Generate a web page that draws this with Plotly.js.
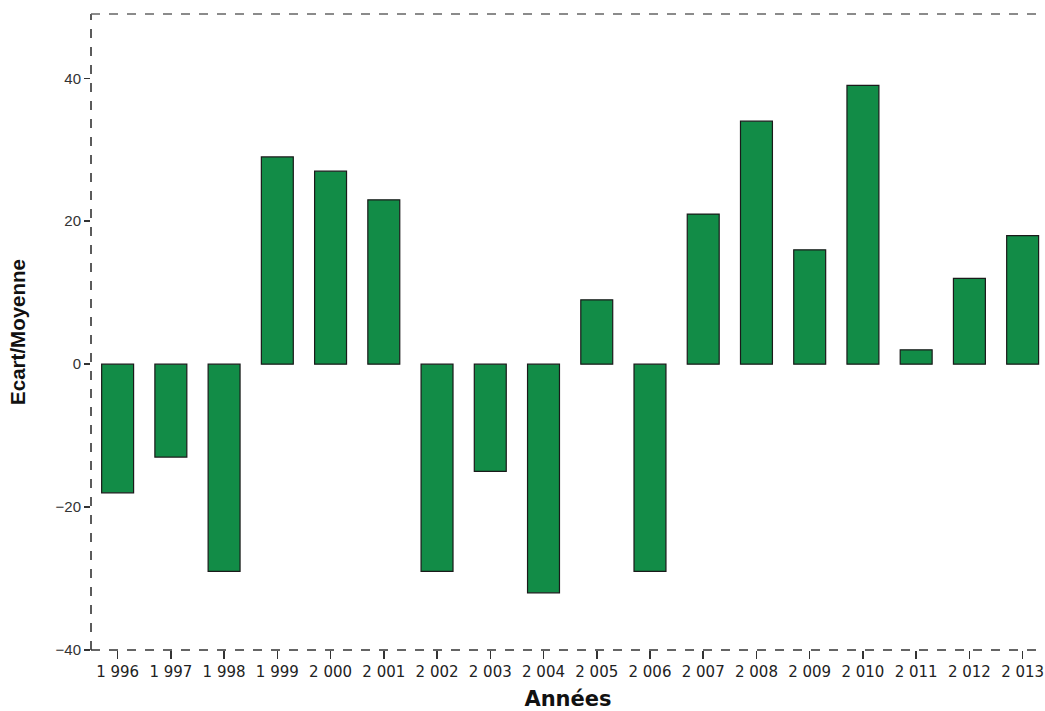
<!DOCTYPE html>
<html>
<head>
<meta charset="utf-8">
<script src="https://cdn.plot.ly/plotly-3.0.1.min.js"></script>
<style>html,body{margin:0;padding:0;background:#fff;}#chart{width:1045px;height:711px;}</style>
</head>
<body>
<div id="chart"></div>
<script>
const years = ["1 996","1 997","1 998","1 999","2 000","2 001","2 002","2 003","2 004","2 005","2 006","2 007","2 008","2 009","2 010","2 011","2 012","2 013"];
const ecart = [-18,-13,-29,29,27,23,-29,-15,-32,9,-29,21,34,16,39,2,12,18];
const yTicks = [-40,-20,0,20,40];

const trace = {
  type: 'bar',
  x: years,
  y: ecart,
  marker: {color: '#128c47', line: {color: '#1a1a1a', width: 1.2}},
  hoverinfo: 'x+y'
};

const layout = {
  width: 1045, height: 711,
  margin: {l: 91, r: 0, t: 14, b: 61},
  paper_bgcolor: '#fff', plot_bgcolor: '#fff',
  bargap: 0.4,
  showlegend: false,
  xaxis: {
    type: 'category',
    range: [-0.5, 17.42],
    showgrid: false, zeroline: false, showline: false,
    ticks: 'outside', ticklen: 8, tickwidth: 1.5, tickcolor: '#333',
    tickfont: {family: 'DejaVu Sans', size: 15, color: '#222'},
    title: {text: '<b>Années</b>', font: {family: 'DejaVu Sans', size: 21, color: '#111'}, standoff: 13}
  },
  yaxis: {
    range: [-40, 49],
    tickvals: yTicks,
    showgrid: false, zeroline: false, showline: false,
    ticks: 'outside', ticklen: 6, tickwidth: 1.5, tickcolor: '#333',
    tickfont: {family: 'Liberation Sans', size: 15, color: '#333'},
    title: {text: '<b>Ecart/Moyenne</b>', font: {family: 'Liberation Sans', size: 20.5, color: '#111'}, standoff: 24}
  },
  shapes: [
    {type: 'line', xref: 'paper', yref: 'paper', x0: 0, x1: 0, y0: 0, y1: 1,
     line: {color: '#333', width: 1.6, dash: 'dash'}},
    {type: 'line', xref: 'paper', yref: 'paper', x0: 0, x1: 1, y0: 1, y1: 1,
     line: {color: '#666', width: 1.6, dash: 'dash'}},
    {type: 'line', xref: 'paper', yref: 'paper', x0: 0, x1: 1, y0: 0, y1: 0,
     line: {color: '#333', width: 1.6, dash: 'dash'}}
  ]
};

Plotly.newPlot('chart', [trace], layout, {displayModeBar: false, staticPlot: true});
</script>
</body>
</html>
